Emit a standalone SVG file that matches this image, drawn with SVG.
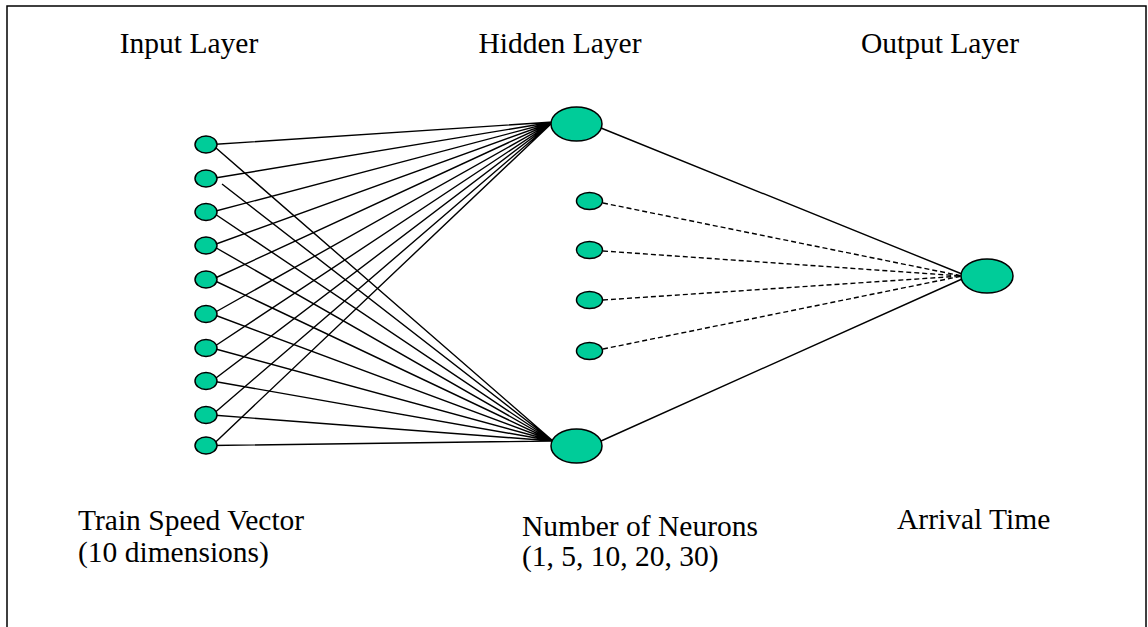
<svg xmlns="http://www.w3.org/2000/svg" width="1148" height="627" viewBox="0 0 1148 627">
<style>
.n{fill:#00CC99;stroke:#000;stroke-width:1.5}
.c{stroke:#000;stroke-width:1.4;fill:none}
.d{stroke:#000;stroke-width:1.4;fill:none;stroke-dasharray:5,3}
.t{font-family:"Liberation Serif","Times New Roman",serif;font-size:29.5px;fill:#000}
</style>
<rect x="0" y="0" width="1148" height="627" fill="#fff"/>
<rect x="7" y="6" width="1139" height="640" fill="none" stroke="#000" stroke-width="1.5"/>
<g id="connectors">
<path class="c" d="M212,144.5L553,122M212,178.5L553,122M212,212L553,122M212,245.5L553,122M212,279.5L553,122M212,314L553,122M212,348L553,122M212,381L553,122M212,415L553,122M212,445.5L553,122"/>
<path class="c" d="M212,144.5L553,441M222,184L553,441M212,212L553,441M212,245.5L553,441M212,279.5L553,441M212,314L553,441M212,348L553,441M212,381L553,441M212,415L553,441M212,445.5L553,441"/>
<path class="c" d="M601,128L962,274M601,441L962,279"/>
<path class="d" d="M603,203L962,276M603,251L962,276M603,300L962,276M603,349L962,276"/>
</g>
<g id="input-nodes">
<ellipse class="n" cx="206" cy="144.5" rx="11" ry="8.5"/>
<ellipse class="n" cx="206" cy="178.5" rx="11" ry="8.5"/>
<ellipse class="n" cx="206" cy="212" rx="11" ry="8.5"/>
<ellipse class="n" cx="206" cy="245.5" rx="11" ry="8.5"/>
<ellipse class="n" cx="206" cy="279.5" rx="11" ry="8.5"/>
<ellipse class="n" cx="206" cy="314" rx="11" ry="8.5"/>
<ellipse class="n" cx="206" cy="348" rx="11" ry="8.5"/>
<ellipse class="n" cx="206" cy="381" rx="11" ry="8.5"/>
<ellipse class="n" cx="206" cy="415" rx="11" ry="8.5"/>
<ellipse class="n" cx="206" cy="445.5" rx="11" ry="8.5"/>
</g>
<g id="hidden-nodes">
<ellipse class="n" cx="576.5" cy="124" rx="25.5" ry="17"/>
<ellipse class="n" cx="589.5" cy="201" rx="13" ry="8.5"/>
<ellipse class="n" cx="589.5" cy="250" rx="13" ry="8.5"/>
<ellipse class="n" cx="589.5" cy="300" rx="13" ry="8.5"/>
<ellipse class="n" cx="589.5" cy="351" rx="13" ry="8.5"/>
<ellipse class="n" cx="576.5" cy="446" rx="25.5" ry="17"/>
</g>
<g id="output-node">
<ellipse class="n" cx="987" cy="276" rx="26" ry="17"/>
</g>
<g id="labels">
<text class="t" x="189" y="53" text-anchor="middle">Input Layer</text>
<text class="t" x="560" y="53" text-anchor="middle">Hidden Layer</text>
<text class="t" x="940" y="53" text-anchor="middle">Output Layer</text>
<text class="t" x="78" y="530">Train Speed Vector</text>
<text class="t" x="78" y="562">(10 dimensions)</text>
<text class="t" x="522" y="536">Number of Neurons</text>
<text class="t" x="522" y="566">(1, 5, 10, 20, 30)</text>
<text class="t" x="897" y="529">Arrival Time</text>
</g>
</svg>
